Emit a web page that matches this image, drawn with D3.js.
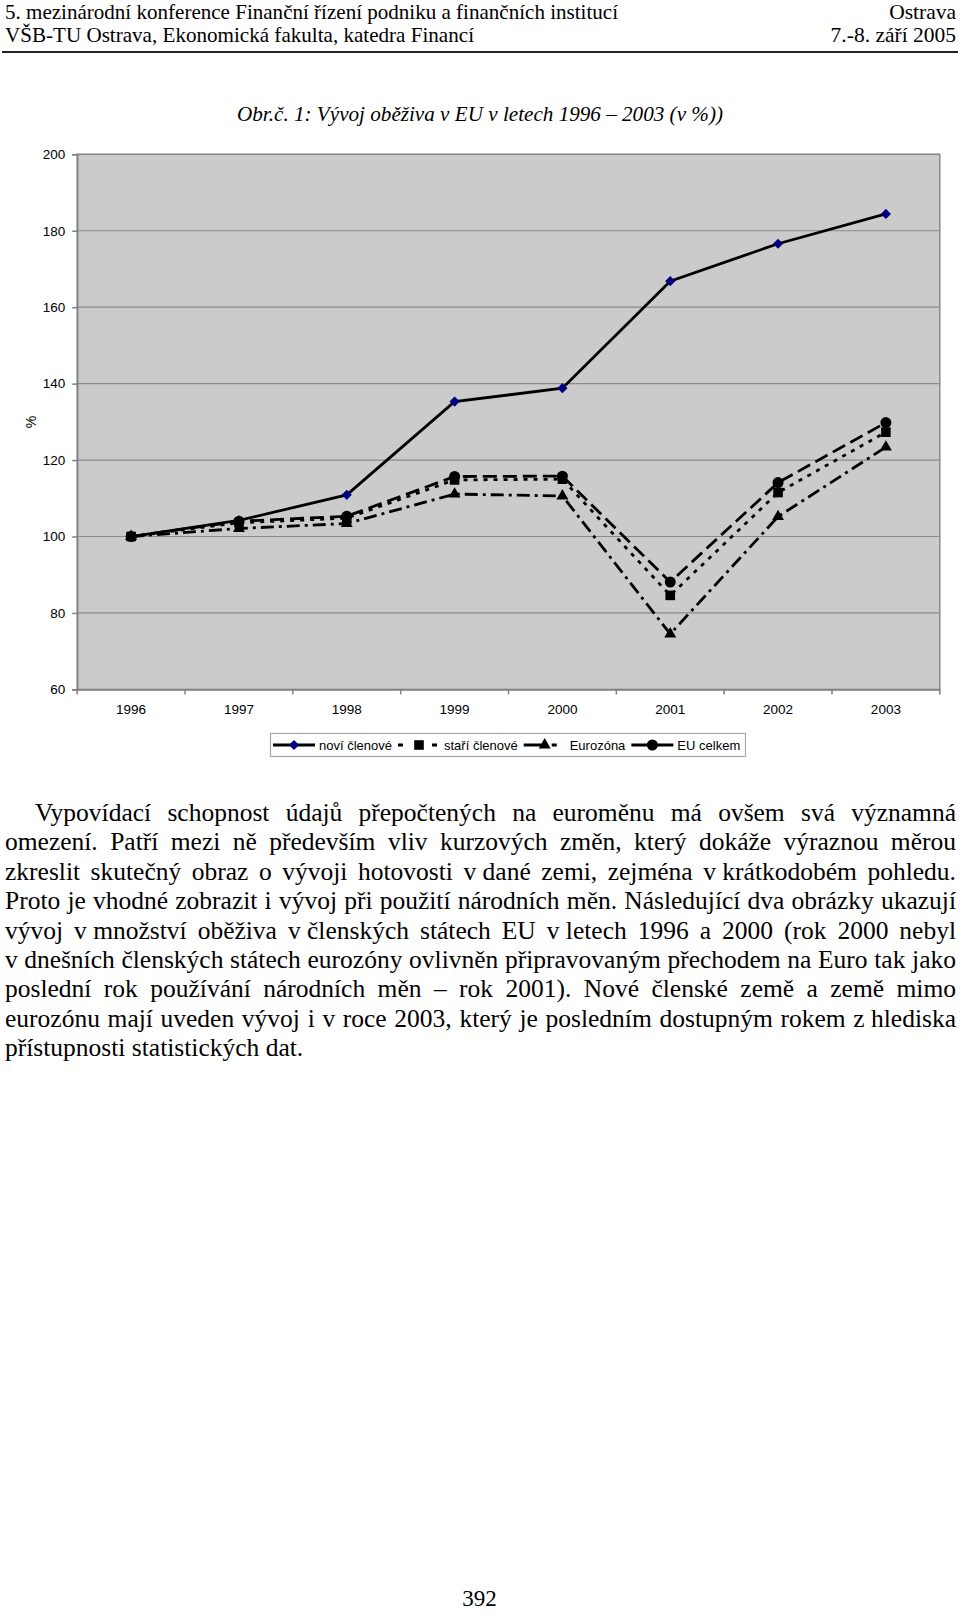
<!DOCTYPE html>
<html><head><meta charset="utf-8">
<script src="https://cdn.jsdelivr.net/npm/d3@7"></script>
<style>body{margin:0;background:#fff}svg{display:block}</style>
</head><body>
<svg id="page" width="960" height="1613"></svg>
<script>
// ---------- data ----------
const years = ["1996","1997","1998","1999","2000","2001","2002","2003"];
const noviClenove  = [100, 104.2, 110.9, 135.3, 138.8, 166.8, 176.6, 184.4];
const stariClenove = [100, 103.6, 104.8, 114.8, 115.0, 84.6, 111.5, 127.3];
const eurozona     = [100, 102.1, 103.4, 111.1, 110.6, 74.5, 105.2, 123.4];
const euCelkem     = [100, 104.0, 105.3, 115.7, 115.8, 88.1, 114.1, 129.8];
const yTicks = [60, 80, 100, 120, 140, 160, 180, 200];
const seriesNames = ["noví členové", "staří členové", "Eurozóna", "EU celkem"];
const yAxisLabel = "%";
const headerLeft = ["5. mezinárodní konference Finanční řízení podniku a finančních institucí",
                    "VŠB-TU Ostrava, Ekonomická fakulta, katedra Financí"];
const headerRight = ["Ostrava", "7.-8. září 2005"];
const chartTitle = "Obr.č. 1: Vývoj oběživa v EU v letech 1996 – 2003 (v %))";
const paragraphLines = [
  "Vypovídací schopnost údajů přepočtených na euroměnu má ovšem svá významná",
  "omezení. Patří mezi ně především vliv kurzových změn, který dokáže výraznou měrou",
  "zkreslit skutečný obraz o vývoji hotovosti v\u00A0dané zemi, zejména v\u00A0krátkodobém pohledu.",
  "Proto je vhodné zobrazit i vývoj při použití národních měn. Následující dva obrázky ukazují",
  "vývoj v\u00A0množství oběživa v\u00A0členských státech EU v\u00A0letech 1996 a 2000 (rok 2000 nebyl",
  "v\u00A0dnešních členských státech eurozóny ovlivněn připravovaným přechodem na Euro tak jako",
  "poslední rok používání národních měn – rok 2001). Nové členské země a země mimo",
  "eurozónu mají uveden vývoj i v roce 2003, který je posledním dostupným rokem z\u00A0hlediska",
  "přístupnosti statistických dat."
];
const pageNumber = "392";

// ---------- layout ----------
const svg = d3.select("#page");
svg.append("rect").attr("width", 960).attr("height", 1613).attr("fill", "#fff");
const serif = "'Liberation Serif','Times New Roman',serif";
const sans = "'Liberation Sans',Arial,sans-serif";

// header
const hdr = svg.append("g").attr("font-family", serif).attr("font-size", 21.5).attr("fill", "#000");
const hdrBase = [18.5, 42];
const hdrWidths = [613, 469];
headerLeft.forEach((t, i) => {
  hdr.append("text").attr("x", 5).attr("y", hdrBase[i]).attr("textLength", hdrWidths[i])
     .attr("lengthAdjust", "spacingAndGlyphs").text(t);
});
headerRight.forEach((t, i) => {
  hdr.append("text").attr("x", 956).attr("y", hdrBase[i]).attr("text-anchor", "end").text(t);
});
svg.append("line").attr("x1", 2).attr("x2", 958).attr("y1", 52).attr("y2", 52)
   .attr("stroke", "#222").attr("stroke-width", 2);

// title
svg.append("text").attr("x", 237).attr("y", 121).attr("font-family", serif)
   .attr("font-style", "italic").attr("font-size", 21.5).attr("textLength", 486)
   .attr("lengthAdjust", "spacingAndGlyphs").text(chartTitle);

// ---------- chart ----------
const plotL = 77.2, plotR = 939.8, plotT = 154.3, plotB = 689.4;
const x = d3.scaleBand().domain(years).range([plotL, plotR]);
const y = d3.scaleLinear().domain([60, 200]).range([plotB, plotT]);
const cx = d => x(d) + x.bandwidth() / 2;

const chart = svg.append("g");
chart.append("rect").attr("x", plotL).attr("y", plotT).attr("width", plotR - plotL)
     .attr("height", plotB - plotT).attr("fill", "#cbcbcb");
chart.selectAll("line.grid").data(yTicks.filter(v => v > 60)).join("line")
     .attr("class", "grid").attr("x1", plotL).attr("x2", plotR)
     .attr("y1", d => y(d)).attr("y2", d => y(d)).attr("stroke", "#8a8a8a").attr("stroke-width", 1.2);
chart.append("rect").attr("x", plotL).attr("y", plotT).attr("width", plotR - plotL)
     .attr("height", plotB - plotT).attr("fill", "none").attr("stroke", "#8a8a8a").attr("stroke-width", 1.5);

// y axis
const yAxis = chart.append("g").attr("transform", `translate(${plotL},0)`)
  .call(d3.axisLeft(y).tickValues(yTicks).tickSize(5).tickPadding(7));
yAxis.select(".domain").attr("stroke", "#808080").attr("stroke-width", 1.5);
yAxis.selectAll(".tick line").attr("stroke", "#808080").attr("stroke-width", 1.5);
yAxis.selectAll("text").attr("font-family", sans).attr("font-size", 13.5).attr("fill", "#000");

// x axis (labels at centres, ticks at band edges)
const xAxis = chart.append("g").attr("transform", `translate(0,${plotB})`)
  .call(d3.axisBottom(x).tickSize(0).tickPadding(15));
xAxis.select(".domain").attr("stroke", "#808080").attr("stroke-width", 1.5);
xAxis.selectAll("text").attr("font-family", sans).attr("font-size", 13.5).attr("fill", "#000");
const edges = years.map(d => x(d)).concat([x.range()[1]]);
chart.selectAll("line.xtick").data(edges).join("line").attr("class", "xtick")
     .attr("x1", d => d).attr("x2", d => d).attr("y1", plotB).attr("y2", plotB + 5)
     .attr("stroke", "#808080").attr("stroke-width", 1.5);

// y label
svg.append("text").attr("transform", "translate(36,422) rotate(-90)").attr("text-anchor", "middle")
   .attr("font-family", sans).attr("font-size", 14).text(yAxisLabel);

// series
const series = [
  {name: seriesNames[0], values: noviClenove,  dash: null,       legDash: null,      marker: "diamond",  fill: "#000080"},
  {name: seriesNames[1], values: stariClenove, dash: "4,6",      legDash: "5,12",    marker: "square",   fill: "#000"},
  {name: seriesNames[2], values: eurozona,     dash: "13,5,3,5", legDash: "20,8,5,9",marker: "triangle", fill: "#000"},
  {name: seriesNames[3], values: euCelkem,     dash: "14,6",     legDash: "17,8",    marker: "circle",   fill: "#000"}
];
function drawMarker(g, type, px, py, fill) {
  let p;
  if (type === "diamond") p = g.append("path").attr("d", d3.symbol(d3.symbolSquare, 52)())
       .attr("transform", `translate(${px},${py}) rotate(45)`);
  else if (type === "square") p = g.append("path").attr("d", d3.symbol(d3.symbolSquare, 92)())
       .attr("transform", `translate(${px},${py})`);
  else if (type === "triangle") p = g.append("path").attr("d", d3.symbol(d3.symbolTriangle, 62)())
       .attr("transform", `translate(${px},${py})`);
  else p = g.append("path").attr("d", d3.symbol(d3.symbolCircle, 95)())
       .attr("transform", `translate(${px},${py})`);
  p.attr("fill", fill);
}
const line = d3.line().x((d, i) => cx(years[i])).y(d => y(d));
series.forEach(s => {
  const g = chart.append("g");
  g.append("path").attr("d", line(s.values)).attr("fill", "none").attr("stroke", "#000")
   .attr("stroke-width", 2.8).attr("stroke-dasharray", s.dash);
  s.values.forEach((v, i) => drawMarker(g, s.marker, cx(years[i]), y(v), s.fill));
});

// legend
const leg = svg.append("g");
const legRect = leg.append("rect").attr("x", 270.5).attr("y", 733.5).attr("height", 23)
   .attr("fill", "#fff").attr("stroke", "#a8a8a8").attr("stroke-width", 1.2);
let lx = 273;
const legMid = 745;
series.forEach(s => {
  leg.append("line").attr("x1", lx).attr("x2", lx + 42).attr("y1", legMid).attr("y2", legMid)
     .attr("stroke", "#000").attr("stroke-width", 2.8).attr("stroke-dasharray", s.legDash);
  drawMarker(leg, s.marker, lx + 21, legMid, s.fill);
  const t = leg.append("text").attr("x", lx + 46).attr("y", legMid + 4.6)
     .attr("font-family", sans).attr("font-size", 13).text(s.name);
  lx = lx + 46 + t.node().getComputedTextLength() + 6;
});
legRect.attr("width", 745.5 - 270.5);

// ---------- paragraph ----------
const para = svg.append("g").attr("font-family", serif).attr("font-size", 25.5).attr("fill", "#000");
const paraX0 = 5, paraX1 = 956, indent = 30, baseY = 821, lh = 29.4;
paragraphLines.forEach((txt, li) => {
  const tokens = txt.split(" ").filter(s => s.length);
  const t = para.append("text").attr("y", baseY + li * lh);
  const spans = tokens.map(tok => t.append("tspan").text(tok));
  const widths = spans.map(s => s.node().getComputedTextLength());
  const x0 = paraX0 + (li === 0 ? indent : 0);
  const last = li === paragraphLines.length - 1;
  const gap = last ? 6.4 : (paraX1 - x0 - d3.sum(widths)) / (tokens.length - 1);
  let px = x0;
  spans.forEach((s, i) => { s.attr("x", px); px += widths[i] + gap; });
});

// page number
svg.append("text").attr("x", 479.5).attr("y", 1606).attr("text-anchor", "middle")
   .attr("font-family", serif).attr("font-size", 23).text(pageNumber);
</script>
</body></html>
